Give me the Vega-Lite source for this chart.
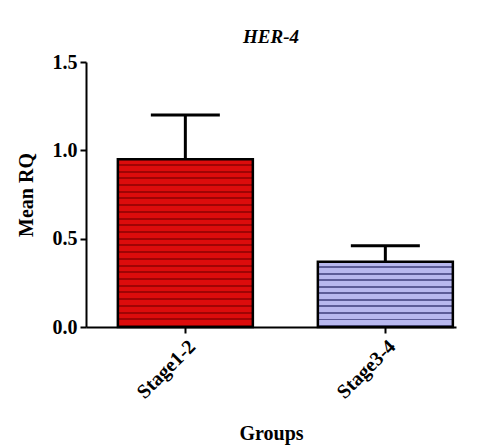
{
  "$schema": "https://vega.github.io/schema/vega-lite/v6.json",
  "width": 370,
  "height": 265,
  "autosize": {"type": "none"},
  "padding": {"left": 86, "top": 62, "right": 23, "bottom": 120},
  "background": "white",
  "title": {"text": "HER-4", "font": "Liberation Serif", "fontSize": 19, "fontWeight": "bold", "fontStyle": "italic", "color": "black", "offset": 5},
  "data": {"values": [
    {"group": "Stage1-2", "mean": 0.95, "upper": 1.2},
    {"group": "Stage3-4", "mean": 0.37, "upper": 0.46}
  ]},
  "encoding": {
    "x": {"field": "group", "type": "nominal", "title": "Groups",
      "scale": {"paddingInner": 0.325, "paddingOuter": 0.0875, "align": 0.91},
      "axis": {"labelAngle": -45, "titlePadding": 22}},
    "y": {"field": "mean", "type": "quantitative", "title": "Mean RQ",
      "scale": {"domain": [0, 1.5], "nice": false},
      "axis": {"values": [0, 0.5, 1, 1.5], "format": ".1f", "titlePadding": 16}}
  },
  "layer": [
    {"transform": [{"filter": "datum.group == 'Stage1-2'"}],
     "mark": {"type": "bar", "stroke": "black", "strokeWidth": 2.5,
       "fill": {"gradient": "linear", "x1": 0, "y1": 0, "x2": 0, "y2": 1, "stops": [
        {"offset": 0, "color": "#dc0c0c"}, {"offset": 0.028, "color": "#dc0c0c"}, {"offset": 0.028, "color": "#a00404"}, {"offset": 0.04, "color": "#a00404"},
        {"offset": 0.04, "color": "#dc0c0c"}, {"offset": 0.068, "color": "#dc0c0c"}, {"offset": 0.068, "color": "#a00404"}, {"offset": 0.08, "color": "#a00404"},
        {"offset": 0.08, "color": "#dc0c0c"}, {"offset": 0.108, "color": "#dc0c0c"}, {"offset": 0.108, "color": "#a00404"}, {"offset": 0.12, "color": "#a00404"},
        {"offset": 0.12, "color": "#dc0c0c"}, {"offset": 0.148, "color": "#dc0c0c"}, {"offset": 0.148, "color": "#a00404"}, {"offset": 0.16, "color": "#a00404"},
        {"offset": 0.16, "color": "#dc0c0c"}, {"offset": 0.188, "color": "#dc0c0c"}, {"offset": 0.188, "color": "#a00404"}, {"offset": 0.2, "color": "#a00404"},
        {"offset": 0.2, "color": "#dc0c0c"}, {"offset": 0.228, "color": "#dc0c0c"}, {"offset": 0.228, "color": "#a00404"}, {"offset": 0.24, "color": "#a00404"},
        {"offset": 0.24, "color": "#dc0c0c"}, {"offset": 0.268, "color": "#dc0c0c"}, {"offset": 0.268, "color": "#a00404"}, {"offset": 0.28, "color": "#a00404"},
        {"offset": 0.28, "color": "#dc0c0c"}, {"offset": 0.308, "color": "#dc0c0c"}, {"offset": 0.308, "color": "#a00404"}, {"offset": 0.32, "color": "#a00404"},
        {"offset": 0.32, "color": "#dc0c0c"}, {"offset": 0.348, "color": "#dc0c0c"}, {"offset": 0.348, "color": "#a00404"}, {"offset": 0.36, "color": "#a00404"},
        {"offset": 0.36, "color": "#dc0c0c"}, {"offset": 0.388, "color": "#dc0c0c"}, {"offset": 0.388, "color": "#a00404"}, {"offset": 0.4, "color": "#a00404"},
        {"offset": 0.4, "color": "#dc0c0c"}, {"offset": 0.428, "color": "#dc0c0c"}, {"offset": 0.428, "color": "#a00404"}, {"offset": 0.44, "color": "#a00404"},
        {"offset": 0.44, "color": "#dc0c0c"}, {"offset": 0.468, "color": "#dc0c0c"}, {"offset": 0.468, "color": "#a00404"}, {"offset": 0.48, "color": "#a00404"},
        {"offset": 0.48, "color": "#dc0c0c"}, {"offset": 0.508, "color": "#dc0c0c"}, {"offset": 0.508, "color": "#a00404"}, {"offset": 0.52, "color": "#a00404"},
        {"offset": 0.52, "color": "#dc0c0c"}, {"offset": 0.548, "color": "#dc0c0c"}, {"offset": 0.548, "color": "#a00404"}, {"offset": 0.56, "color": "#a00404"},
        {"offset": 0.56, "color": "#dc0c0c"}, {"offset": 0.588, "color": "#dc0c0c"}, {"offset": 0.588, "color": "#a00404"}, {"offset": 0.6, "color": "#a00404"},
        {"offset": 0.6, "color": "#dc0c0c"}, {"offset": 0.628, "color": "#dc0c0c"}, {"offset": 0.628, "color": "#a00404"}, {"offset": 0.64, "color": "#a00404"},
        {"offset": 0.64, "color": "#dc0c0c"}, {"offset": 0.668, "color": "#dc0c0c"}, {"offset": 0.668, "color": "#a00404"}, {"offset": 0.68, "color": "#a00404"},
        {"offset": 0.68, "color": "#dc0c0c"}, {"offset": 0.708, "color": "#dc0c0c"}, {"offset": 0.708, "color": "#a00404"}, {"offset": 0.72, "color": "#a00404"},
        {"offset": 0.72, "color": "#dc0c0c"}, {"offset": 0.748, "color": "#dc0c0c"}, {"offset": 0.748, "color": "#a00404"}, {"offset": 0.76, "color": "#a00404"},
        {"offset": 0.76, "color": "#dc0c0c"}, {"offset": 0.788, "color": "#dc0c0c"}, {"offset": 0.788, "color": "#a00404"}, {"offset": 0.8, "color": "#a00404"},
        {"offset": 0.8, "color": "#dc0c0c"}, {"offset": 0.828, "color": "#dc0c0c"}, {"offset": 0.828, "color": "#a00404"}, {"offset": 0.84, "color": "#a00404"},
        {"offset": 0.84, "color": "#dc0c0c"}, {"offset": 0.868, "color": "#dc0c0c"}, {"offset": 0.868, "color": "#a00404"}, {"offset": 0.88, "color": "#a00404"},
        {"offset": 0.88, "color": "#dc0c0c"}, {"offset": 0.908, "color": "#dc0c0c"}, {"offset": 0.908, "color": "#a00404"}, {"offset": 0.92, "color": "#a00404"},
        {"offset": 0.92, "color": "#dc0c0c"}, {"offset": 0.948, "color": "#dc0c0c"}, {"offset": 0.948, "color": "#a00404"}, {"offset": 0.96, "color": "#a00404"},
        {"offset": 0.96, "color": "#dc0c0c"}, {"offset": 0.988, "color": "#dc0c0c"}, {"offset": 0.988, "color": "#a00404"}, {"offset": 1, "color": "#a00404"}
       ]}}},
    {"transform": [{"filter": "datum.group == 'Stage3-4'"}],
     "mark": {"type": "bar", "stroke": "black", "strokeWidth": 2.5,
       "fill": {"gradient": "linear", "x1": 0, "y1": 0, "x2": 0, "y2": 1, "stops": [
        {"offset": 0, "color": "#b8b8ef"}, {"offset": 0.07, "color": "#b8b8ef"}, {"offset": 0.07, "color": "#5c5c98"}, {"offset": 0.1, "color": "#5c5c98"},
        {"offset": 0.1, "color": "#b8b8ef"}, {"offset": 0.17, "color": "#b8b8ef"}, {"offset": 0.17, "color": "#5c5c98"}, {"offset": 0.2, "color": "#5c5c98"},
        {"offset": 0.2, "color": "#b8b8ef"}, {"offset": 0.27, "color": "#b8b8ef"}, {"offset": 0.27, "color": "#5c5c98"}, {"offset": 0.3, "color": "#5c5c98"},
        {"offset": 0.3, "color": "#b8b8ef"}, {"offset": 0.37, "color": "#b8b8ef"}, {"offset": 0.37, "color": "#5c5c98"}, {"offset": 0.4, "color": "#5c5c98"},
        {"offset": 0.4, "color": "#b8b8ef"}, {"offset": 0.47, "color": "#b8b8ef"}, {"offset": 0.47, "color": "#5c5c98"}, {"offset": 0.5, "color": "#5c5c98"},
        {"offset": 0.5, "color": "#b8b8ef"}, {"offset": 0.57, "color": "#b8b8ef"}, {"offset": 0.57, "color": "#5c5c98"}, {"offset": 0.6, "color": "#5c5c98"},
        {"offset": 0.6, "color": "#b8b8ef"}, {"offset": 0.67, "color": "#b8b8ef"}, {"offset": 0.67, "color": "#5c5c98"}, {"offset": 0.7, "color": "#5c5c98"},
        {"offset": 0.7, "color": "#b8b8ef"}, {"offset": 0.77, "color": "#b8b8ef"}, {"offset": 0.77, "color": "#5c5c98"}, {"offset": 0.8, "color": "#5c5c98"},
        {"offset": 0.8, "color": "#b8b8ef"}, {"offset": 0.87, "color": "#b8b8ef"}, {"offset": 0.87, "color": "#5c5c98"}, {"offset": 0.9, "color": "#5c5c98"},
        {"offset": 0.9, "color": "#b8b8ef"}, {"offset": 0.97, "color": "#b8b8ef"}, {"offset": 0.97, "color": "#5c5c98"}, {"offset": 1, "color": "#5c5c98"}
       ]}}},
    {"mark": {"type": "rule", "color": "black", "strokeWidth": 3},
     "encoding": {"y": {"field": "mean", "type": "quantitative"}, "y2": {"field": "upper"}}},
    {"mark": {"type": "tick", "color": "black", "thickness": 3, "size": 69, "opacity": 1},
     "encoding": {"y": {"field": "upper", "type": "quantitative"}}}
  ],
  "config": {
    "view": {"stroke": null},
    "axis": {
      "grid": false,
      "domainColor": "black", "domainWidth": 2,
      "tickColor": "black", "tickWidth": 2, "tickSize": 6,
      "labelFont": "Liberation Serif", "labelFontSize": 20, "labelFontWeight": "bold", "labelColor": "black", "labelPadding": 3,
      "titleFont": "Liberation Serif", "titleFontSize": 20, "titleFontWeight": "bold", "titleColor": "black"
    }
  }
}
